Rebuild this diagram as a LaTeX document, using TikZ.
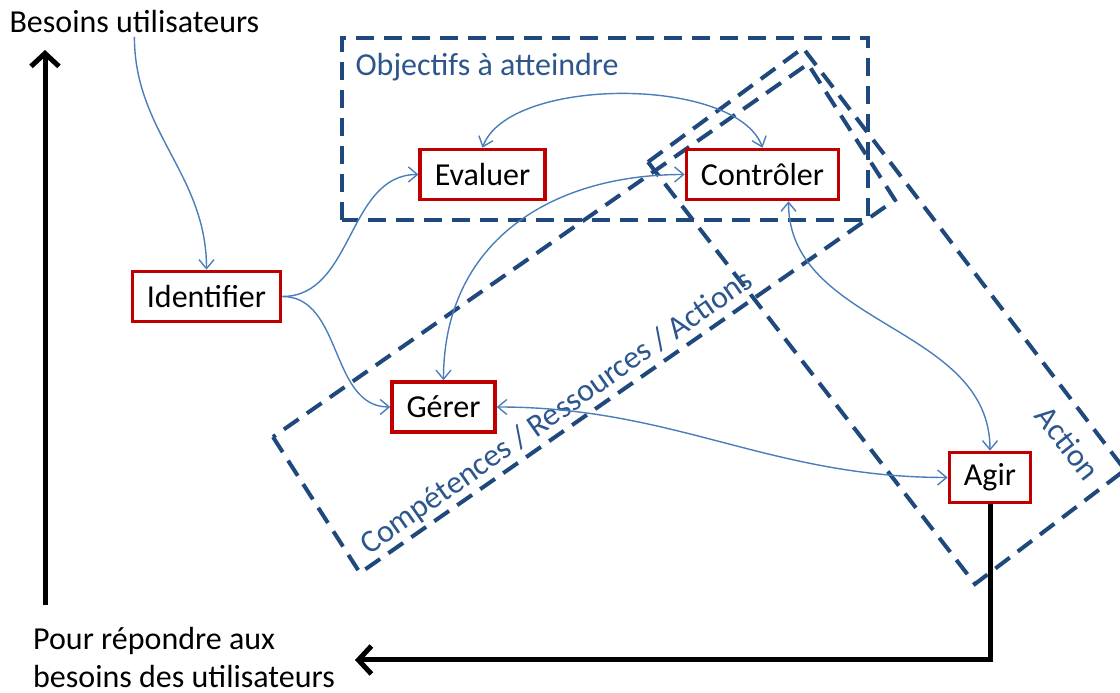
\documentclass[tikz,border=0pt]{standalone}
\usepackage{fontspec}
\setmainfont{Carlito}
\usetikzlibrary{arrows.meta}
\definecolor{cadre}{RGB}{192,0,0}
\definecolor{bleulien}{RGB}{74,126,187}
\definecolor{bleuzone}{RGB}{31,73,125}
\definecolor{bleutexte}{RGB}{44,86,140}

\begin{document}
\begin{tikzpicture}[x=1pt, y=1pt, font=\fontsize{32}{38}\selectfont,
        etape/.style={draw=cadre, line width=3.6pt, fill=white, minimum height=50pt, inner xsep=14.5pt, inner ysep=0pt},
        lien/.style={draw=bleulien, line width=1.4pt, -{Straight Barb[length=9pt,width=15pt]}},
        liens/.style={lien, {Straight Barb[length=9pt,width=15pt]}-{Straight Barb[length=9pt,width=15pt]}},
        zone/.style={draw=bleuzone, line width=4pt, dash pattern=on 18pt off 10pt},
        fleche/.style={line width=5pt, -{Straight Barb[length=13pt,width=28pt]}}]
    \useasboundingbox (0,0) rectangle (1120,693);
    % zones
    \draw[zone] (342,473) rectangle (868,655);
    \draw[zone] (273,256)--(360,120)--(895,493)--(808,629)--cycle;
    \draw[zone] (648,531)--(803,645)--(1125,223)--(975,109)--cycle;
    \node[text=bleutexte, anchor=base west] (objectifs) at (352,617) {Objectifs à atteindre};
    \node[text=bleutexte, anchor=base, rotate=35] (competences) at (562,273) {Compétences / Ressources / Actions};
    \node[text=bleutexte, rotate=-52] (action) at (1068,250) {Action};
    % etapes
    \node[anchor=base west] (besoins) at (6,660) {Besoins utilisateurs};
    \node[etape] (identifier) at (206.5,396.5) {Identifier};
    \node[etape] (evaluer) at (482.5,518.5) {Evaluer};
    \node[etape] (controler) at (762.5,518.5) {Contrôler};
    \node[etape] (gerer) at (443.5,286) {Gérer};
    \node[etape] (agir) at (990,215.5) {Agir};
    \node[anchor=base west, align=left, inner sep=0pt] (pour) at (33,5) {Pour répondre aux\\besoins des utilisateurs};
    % liens
    \draw[lien] (besoins.south) to[out=-90,in=90] (identifier.north);
    \draw[lien] (identifier.east) to[out=0,in=180] (evaluer.west);
    \draw[lien] (identifier.east) to[out=0,in=180] (gerer.west);
    \draw[liens] (evaluer.north) to[out=70,in=110,looseness=0.7] (controler.north);
    \draw[liens] (gerer.north) to[out=90,in=180,looseness=1.1] (controler.west);
    \draw[liens] ([xshift=26pt]controler.south) to[out=-90,in=90] (agir.north);
    \draw[liens] (gerer.east) to[out=0,in=180] (agir.west);
    % fleches noires
    \coordinate (bas) at (45,88);
    \coordinate (haut) at (45,643);
    \coordinate (retour) at (355,33);
    \draw[fleche] (bas)--(haut);
    \draw[fleche] (agir.south) |- (retour);
\end{tikzpicture}
\end{document}
